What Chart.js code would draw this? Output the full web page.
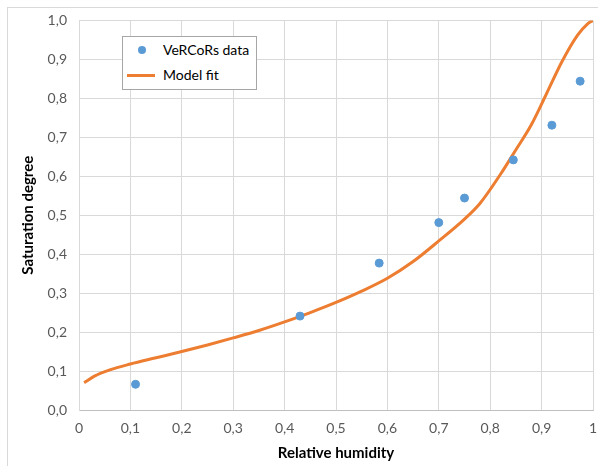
<!DOCTYPE html>
<html lang="en">
<head>
    <meta charset="UTF-8">
    <title>Saturation degree vs relative humidity</title>
    <script src="https://cdn.jsdelivr.net/npm/chart.js"></script>
    <style>
        html, body { margin: 0; background: #fff; overflow: hidden; }
        .frame {
            position: absolute; left: 7px; top: 7px; width: 596px; height: 466px;
            border: 1px solid #d9d9d9;
        }
        .wrap { position: absolute; left: 0; top: 0; width: 598px; height: 466px; }
        .legend {
            position: absolute; left: 122px; top: 36px; width: 133px; height: 52px;
            border: 1px solid #a6a6a6; background: #fff;
            font-family: Lato, "Open Sans", sans-serif; font-size: 14px; color: #000;
        }
        .legend .row { position: absolute; left: 0; height: 20px; line-height: 20px; }
        .legend .dot {
            position: absolute; left: 15px; top: 6px; width: 8px; height: 8px;
            border-radius: 50%; background: #5B9BD5;
        }
        .legend .line {
            position: absolute; left: 4px; top: 9px; width: 28px; height: 3px; background: #ED7D31;
        }
        .legend .lbl { position: absolute; left: 40px; white-space: nowrap; }
    </style>
</head>
<body>
    <div class="frame"></div>
    <div class="wrap">
        <canvas id="chart" width="598" height="466"></canvas>
    </div>
    <div class="legend">
        <div class="row" style="top:3px"><span class="dot"></span><span class="lbl">VeRCoRs data</span></div>
        <div class="row" style="top:28px"><span class="line"></span><span class="lbl">Model fit</span></div>
    </div>

    <script>
        // measured points
        const dataX = [0.11, 0.43, 0.584, 0.70, 0.75, 0.845, 0.92, 0.975];
        const dataY = [0.066, 0.241, 0.377, 0.481, 0.544, 0.642, 0.731, 0.844];

        // model fit curve
        const fitX = [0.01, 0.03, 0.06, 0.1, 0.15, 0.2, 0.25, 0.3, 0.35, 0.4, 0.45, 0.5, 0.55, 0.6,
                      0.65, 0.7, 0.75, 0.78, 0.82, 0.85, 0.88, 0.91, 0.94, 0.97, 0.99, 1.0];
        const fitY = [0.07, 0.087, 0.103, 0.118, 0.134, 0.15, 0.167, 0.185, 0.204, 0.226, 0.25, 0.276, 0.305, 0.338,
                      0.381, 0.434, 0.49, 0.53, 0.605, 0.668, 0.732, 0.813, 0.895, 0.962, 0.992, 1.0];

        const comma = v => String(Math.round(v * 10) / 10).replace('.', ',');

        new Chart(document.getElementById('chart'), {
            type: 'scatter',
            data: {
                datasets: [
                    {
                        label: 'VeRCoRs data',
                        data: dataX.map((x, i) => ({ x: x, y: dataY[i] })),
                        backgroundColor: '#5B9BD5',
                        borderColor: '#5B9BD5',
                        pointRadius: 4,
                        order: 1
                    },
                    {
                        label: 'Model fit',
                        type: 'line',
                        data: fitX.map((x, i) => ({ x: x, y: fitY[i] })),
                        borderColor: '#ED7D31',
                        borderWidth: 3,
                        pointRadius: 0,
                        cubicInterpolationMode: 'monotone',
                        fill: false,
                        order: 2
                    }
                ]
            },
            options: {
                responsive: false,
                animation: false,
                layout: { padding: { left: 19, top: 20, right: 5, bottom: 4 } },
                plugins: { legend: { display: false }, tooltip: { enabled: false } },
                scales: {
                    x: {
                        type: 'linear', min: 0, max: 1,
                        grid: { color: '#d9d9d9', drawTicks: false },
                        border: { color: '#bfbfbf' },
                        ticks: {
                            stepSize: 0.1, padding: 10, color: '#595959',
                            font: { family: 'Lato', size: 14 },
                            callback: v => comma(v)
                        },
                        title: {
                            display: true, text: 'Relative humidity', color: '#000',
                            font: { family: 'Lato', size: 15, weight: 'bold' },
                            padding: { top: 6, bottom: 0 }
                        },
                        afterFit: s => { s.height = 52; s.paddingRight = 0; s.paddingLeft = 0; }
                    },
                    y: {
                        min: 0, max: 1,
                        grid: { color: '#d9d9d9', drawTicks: false },
                        border: { color: '#d9d9d9' },
                        ticks: {
                            stepSize: 0.1, padding: 12, color: '#595959',
                            font: { family: 'Lato', size: 14 },
                            callback: v => (Math.round(v * 10) / 10).toFixed(1).replace('.', ',')
                        },
                        title: {
                            display: true, text: 'Saturation degree', color: '#000',
                            font: { family: 'Lato', size: 15, weight: 'bold' },
                            padding: { top: 0, bottom: 4 }
                        },
                        afterFit: s => { s.width = 60; }
                    }
                }
            }
        });
    </script>
</body>
</html>
